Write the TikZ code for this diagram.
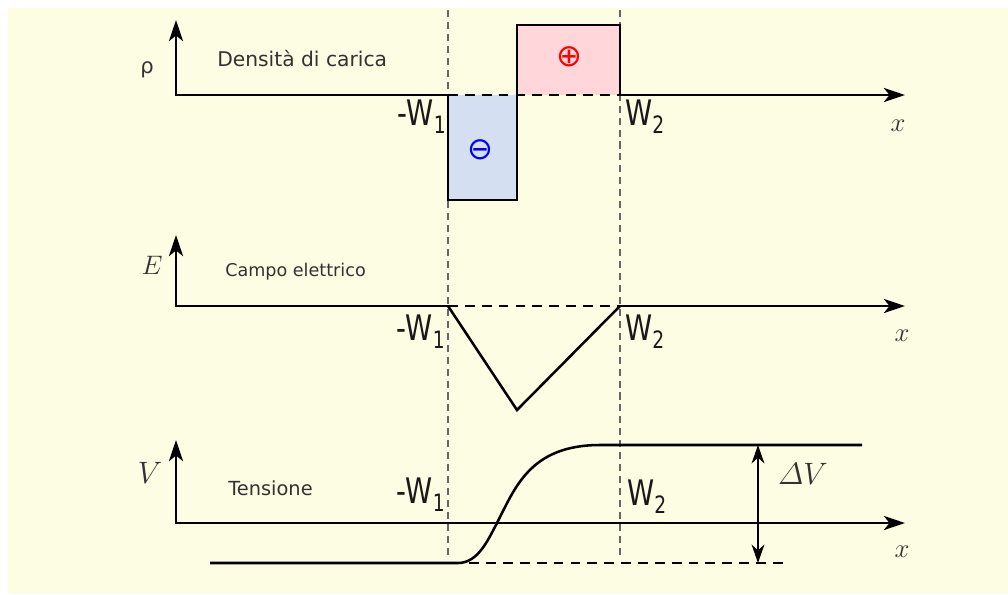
\RequirePackage{fix-cm}
\documentclass[tikz,border=0pt]{standalone}
\usepackage{amsmath}
\usepackage{fontspec}
\newfontfamily\dejavu{DejaVu Sans}
\usetikzlibrary{arrows.meta}

\definecolor{sfondo}{RGB}{253,253,227}
\definecolor{caricaneg}{RGB}{213,223,242}
\definecolor{caricapos}{RGB}{255,214,218}
\definecolor{scritta}{RGB}{50,50,50}
\newcommand{\wlab}[2]{\scalebox{0.78}[1]{\fontsize{25}{25}\selectfont #1\raisebox{-6pt}{\fontsize{17}{17}\selectfont #2}}}

\begin{document}
\begin{tikzpicture}[x=0.025cm, y=-0.025cm,
    every node/.style={inner sep=0pt, font=\dejavu},
    asse/.style={line width=2.1pt, -{Stealth[length=15pt, width=10pt, inset=4pt]}},
    linea/.style={line width=2.1pt, line join=miter},
    curva/.style={line width=1.8pt},
    tratteggio/.style={line width=2.1pt, dash pattern=on 7pt off 5pt},
    guida/.style={line width=0.8pt, gray!80!black, dash pattern=on 5pt off 3.5pt},
    titolo/.style={text=scritta, anchor=base west},
    wsx/.style={text=black!90, anchor=base east},
    wdx/.style={text=black!90, anchor=base west},
    mat/.style={text=scritta, font=\fontsize{19}{19}\selectfont}]

\useasboundingbox (0,0) rectangle (1008,594);
\fill[sfondo] (8,8) rectangle (1008,594);

% guide verticali
\coordinate (g1) at (448,10);
\coordinate (g1b) at (448,556);
\coordinate (g2) at (620,10);
\coordinate (g2b) at (620,556);
\draw[guida] (g1) -- (g1b);
\draw[guida] (g2) -- (g2b);

% densita' di carica
\coordinate (o1) at (176,95);
\coordinate (y1) at (176,20);
\coordinate (a1) at (448,95);
\coordinate (m1) at (517,95);
\coordinate (b1) at (620,95);
\coordinate (x1) at (905,95);
\coordinate (n1) at (448,200);
\coordinate (n2) at (517,200);
\coordinate (p1) at (517,25);
\coordinate (p2) at (620,25);
\fill[caricaneg] (a1) rectangle (n2);
\fill[caricapos] (m1) rectangle (p2);
\draw[linea] (a1) -- (n1) -- (n2) -- (p1) -- (p2) -- (b1);
\draw[asse] (a1) -- (o1) -- (y1);
\draw[tratteggio] (a1) -- (b1);
\draw[asse] (b1) -- (x1);
\node[text=scritta] (rho) at (147,70) {\fontsize{15}{15}\selectfont ρ};
\node[titolo, font={\dejavu\fontsize{14.4}{16}\selectfont}] (dens) at (217,66) {Densità di carica};
\node[text=blue] (meno) at (480,150) {\fontsize{22}{22}\selectfont ⊖};
\node[text=red] (piu) at (569,57) {\fontsize{22}{22}\selectfont ⊕};
\node[wsx] (w1a) at (446,125) {\wlab{-W}{1}};
\node[wdx] (w2a) at (625,125) {\wlab{W}{2}};
\node[mat] (xa) at (898,126) {$x$};

% campo elettrico
\coordinate (o2) at (176,306);
\coordinate (y2) at (176,235);
\coordinate (a2) at (448,306);
\coordinate (b2) at (620,306);
\coordinate (x2) at (905,306);
\coordinate (v2) at (517,410);
\draw[asse] (a2) -- (o2) -- (y2);
\draw[tratteggio] (a2) -- (b2);
\draw[asse] (b2) -- (x2);
\draw[curva] (a2) -- (v2) -- (b2);
\node[mat] (E) at (152,265) {$E$};
\node[titolo, font={\dejavu\fontsize{12.5}{14}\selectfont}] (campo) at (225,276) {Campo elettrico};
\node[wsx] (w1b) at (445,340) {\wlab{-W}{1}};
\node[wdx] (w2b) at (625,340) {\wlab{W}{2}};
\node[mat] (xb) at (902,336) {$x$};

% tensione
\coordinate (o3) at (176,523);
\coordinate (y3) at (176,440);
\coordinate (x3) at (905,523);
\coordinate (c0) at (210,563);
\coordinate (c1) at (458,563);
\coordinate (c2) at (497,523);
\coordinate (c3) at (600,445);
\coordinate (c4) at (862,445);
\coordinate (d1) at (785,563);
\coordinate (dv1) at (758,445);
\coordinate (dv2) at (758,563);
\draw[line width=2.1pt, {Stealth[length=15pt, width=10pt, inset=4pt]}-{Stealth[length=15pt, width=10pt, inset=4pt]}] (y3) -- (o3) -- (x3);
\draw[curva] (c0) -- (c1) .. controls (478,563) and (488,540) .. (c2) .. controls (515,488) and (530,445) .. (c3) -- (c4);
\draw[tratteggio, dash phase=-8pt] (c1) -- (d1);
\draw[line width=1.8pt, {Stealth[length=13pt, width=9pt, inset=4pt]}-{Stealth[length=13pt, width=9pt, inset=4pt]}] (dv1) -- (dv2);
\node[mat, font=\fontsize{22}{22}\selectfont] (V) at (150,473) {$V$};
\node[mat, font=\fontsize{22}{22}\selectfont] (dV) at (803,474) {$\varDelta V$};
\node[titolo, font={\dejavu\fontsize{13.8}{16}\selectfont}] (tens) at (228,495) {Tensione};
\node[wsx] (w1c) at (445,503) {\wlab{-W}{1}};
\node[wdx] (w2c) at (627,505) {\wlab{W}{2}};
\node[mat] (xc) at (902,552) {$x$};
\end{tikzpicture}
\end{document}
